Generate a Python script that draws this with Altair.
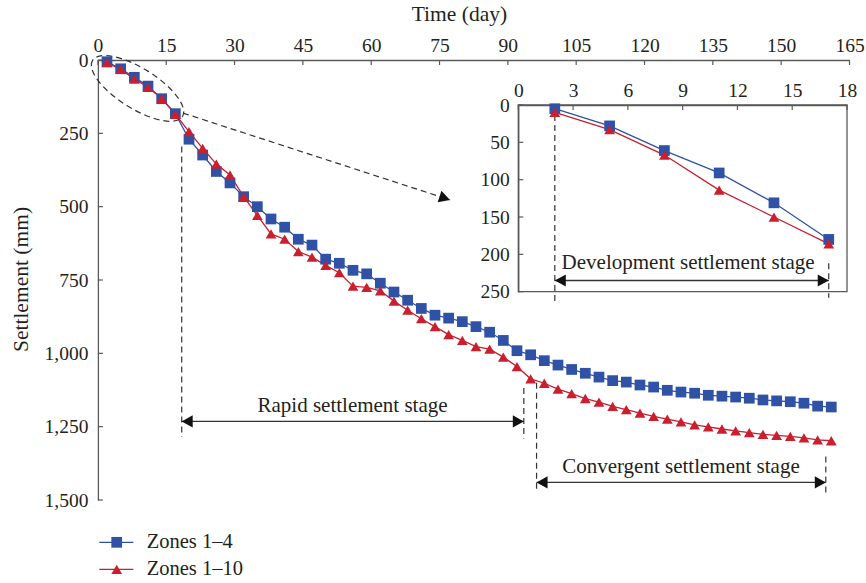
import altair as alt
import pandas as pd

# ---------------- data ----------------
series_names = ["Zones 1–4", "Zones 1–10"]
days = [2, 5, 8, 11, 14, 17, 20, 23, 26, 29, 32, 35, 38, 41, 44, 47, 50, 53,
        56, 59, 62, 65, 68, 71, 74, 77, 80, 83, 86, 89, 92, 95, 98, 101, 104,
        107, 110, 113, 116, 119, 122, 125, 128, 131, 134, 137, 140, 143, 146,
        149, 152, 155, 158, 161]
zones_1_4 = [6, 30, 59, 89, 132, 183, 270, 324, 380, 419, 466, 500, 542, 570,
             611, 631, 679, 693, 717, 729, 761, 791, 819, 847, 870, 880, 892,
             909, 928, 956, 991, 1005, 1025, 1040, 1055, 1068, 1081, 1093, 1098,
             1108, 1115, 1126, 1132, 1136, 1143, 1146, 1149, 1153, 1159, 1162,
             1165, 1170, 1180, 1183]
zones_1_10 = [9, 32, 65, 93, 131, 185, 244, 301, 355, 392, 466, 530, 593, 611,
              653, 672, 700, 725, 771, 775, 787, 822, 853, 882, 909, 936, 956,
              977, 986, 1013, 1045, 1087, 1102, 1122, 1137, 1154, 1166, 1181,
              1192, 1204, 1215, 1224, 1234, 1244, 1251, 1258, 1264, 1270, 1276,
              1280, 1283, 1288, 1295, 1298]

inset_days = [2, 5, 8, 11, 14, 17]
inset_zones_1_4 = [5, 28, 61, 91, 131, 180]
inset_zones_1_10 = [10, 33, 67, 114, 150, 186]

x_ticks = [0, 15, 30, 45, 60, 75, 90, 105, 120, 135, 150, 165]
y_ticks = [0, 250, 500, 750, 1000, 1250, 1500]
inset_x_ticks = [0, 3, 6, 9, 12, 15, 18]
inset_y_ticks = [0, 50, 100, 150, 200, 250]

stage_labels = ["Rapid settlement stage", "Convergent settlement stage",
                "Development settlement stage"]

# ---------------- style ----------------
COLORS = ["#2F52A6", "#C91F2E"]
SHAPES = ["square", "triangle-up"]
FONT = "Liberation Serif"
FS_TICK = 19.5
FS_TITLE = 21.5
FS_TXT = 21
FS_LEG = 20.5
AX = "#5a5a5a"
TXT = "#231f20"
DASH = [6, 4]

W, H = 751.6, 440
PL, PT = 97.9, 60

ARROW_R = "M0,0L-2,-1.1L-2,1.1Z"
ARROW_L = "M0,0L2,-1.1L2,1.1Z"
ELLIPSE = "M-1,0A1,0.38 0 1,0 1,0A1,0.38 0 1,0 -1,0Z"

IX0, IX1 = 420.4, 749.1
IY0, IY1 = 45.0, 231.7


def xsc():
    return alt.Scale(domain=[0, 165], range=[0, W], nice=False, zero=False)


def ysc():
    return alt.Scale(domain=[0, 1500], range=[0, H], nice=False, zero=False)


def ixsc():
    return alt.Scale(domain=[0, 18], range=[IX0, IX1], nice=False, zero=False)


def iysc():
    return alt.Scale(domain=[0, 250], range=[IY0, IY1], nice=False, zero=False)


cs = alt.Scale(domain=series_names, range=COLORS)
ss = alt.Scale(domain=series_names, range=SHAPES)

# ---------------- main panel ----------------
main_df = pd.DataFrame({
    "day": days * 2,
    "mm": zones_1_4 + zones_1_10,
    "series": [series_names[0]] * len(days) + [series_names[1]] * len(days),
})

x_axis = alt.Axis(orient="top", values=x_ticks, ticks=False, grid=False,
                  domainColor=AX, domainWidth=1.3, labelFont=FONT, labelFontSize=FS_TICK,
                  labelColor=TXT, labelPadding=5, labelFlush=False,
                  title="Time (day)", titleFont=FONT, titleFontSize=FS_TITLE,
                  titleFontWeight="normal", titleColor=TXT, titleX=361, titleY=-46,
                  titleAlign="center", titleBaseline="middle", titleAngle=0)
y_axis = alt.Axis(orient="left", values=y_ticks, format=",d", ticks=False,
                  grid=False, domainColor=AX, domainWidth=1.3, labelFont=FONT,
                  labelFontSize=FS_TICK, labelColor=TXT, labelPadding=10, labelFlush=False,
                  title="Settlement (mm)", titleFont=FONT, titleFontSize=FS_TITLE,
                  titleFontWeight="normal", titleColor=TXT, titleX=-76, titleY=219,
                  titleAlign="center", titleBaseline="middle", titleAngle=270)

main_lines = alt.Chart(main_df).mark_line(strokeWidth=1.3).encode(
    x=alt.X("day:Q", scale=xsc(), axis=x_axis),
    y=alt.Y("mm:Q", scale=ysc(), axis=y_axis),
    color=alt.Color("series:N", scale=cs, legend=None),
    detail="series:N",
)
main_pts = alt.Chart(main_df).mark_point(filled=True, opacity=1, size=115).encode(
    x=alt.X("day:Q", scale=xsc(), axis=None),
    y=alt.Y("mm:Q", scale=ysc(), axis=None),
    color=alt.Color("series:N", scale=cs, legend=None),
    shape=alt.Shape("series:N", scale=ss, legend=None),
)

main_xt = alt.Chart(pd.DataFrame({"t": x_ticks})).mark_rule(color=AX, strokeWidth=1.2).encode(
    x=alt.X("t:Q", scale=xsc(), axis=None), y=alt.value(0), y2=alt.value(5))
main_yt = alt.Chart(pd.DataFrame({"t": y_ticks})).mark_rule(color=AX, strokeWidth=1.2).encode(
    y=alt.Y("t:Q", scale=ysc(), axis=None), x=alt.value(0), x2=alt.value(5))

dash_df = pd.DataFrame({
    "x": [18.4, 93.5, 96.3, 159.8, 18.7],
    "y": [295, 1118, 1100, 1352, 181],
    "x2": [18.4, 93.5, 96.3, 159.8, 77.3],
    "y2": [1285, 1290, 1475, 1480, 477],
})
main_dash = alt.Chart(dash_df).mark_rule(color="#333333", strokeWidth=1.2,
                                         strokeDash=DASH).encode(
    x=alt.X("x:Q", scale=xsc(), axis=None), y=alt.Y("y:Q", scale=ysc(), axis=None),
    x2="x2:Q", y2="y2:Q")

shaft_df = pd.DataFrame({"x": [18.4, 96.3], "x2": [93.5, 159.8], "y": [1232, 1440]})
main_shaft = alt.Chart(shaft_df).mark_rule(color="#333333", strokeWidth=1.4).encode(
    x=alt.X("x:Q", scale=xsc(), axis=None), x2="x2:Q",
    y=alt.Y("y:Q", scale=ysc(), axis=None))

head_r = alt.Chart(pd.DataFrame({"x": [93.5, 159.8], "y": [1232, 1440]})).mark_point(
    shape=ARROW_R, size=121, filled=True, color="#111111", opacity=1).encode(
    x=alt.X("x:Q", scale=xsc(), axis=None), y=alt.Y("y:Q", scale=ysc(), axis=None))
head_l = alt.Chart(pd.DataFrame({"x": [18.4, 96.3], "y": [1232, 1440]})).mark_point(
    shape=ARROW_L, size=121, filled=True, color="#111111", opacity=1).encode(
    x=alt.X("x:Q", scale=xsc(), axis=None), y=alt.Y("y:Q", scale=ysc(), axis=None))
head_d = alt.Chart(pd.DataFrame({"x": [77.3], "y": [477]})).mark_point(
    shape=ARROW_R, size=121, filled=True, color="#111111", opacity=1, angle=18).encode(
    x=alt.X("x:Q", scale=xsc(), axis=None), y=alt.Y("y:Q", scale=ysc(), axis=None))

ellipse = alt.Chart(pd.DataFrame({"x": [8.7], "y": [97]})).mark_point(
    shape=ELLIPSE, size=11236, filled=False, color="#333333", strokeWidth=1.2,
    strokeDash=DASH, opacity=1, angle=32).encode(
    x=alt.X("x:Q", scale=xsc(), axis=None), y=alt.Y("y:Q", scale=ysc(), axis=None))

main_txt = alt.Chart(pd.DataFrame({"x": [55.9, 128.0], "y": [1179, 1387],
                                   "label": stage_labels[:2]})).mark_text(
    font=FONT, fontSize=FS_TXT, color=TXT, align="center", baseline="middle").encode(
    x=alt.X("x:Q", scale=xsc(), axis=None), y=alt.Y("y:Q", scale=ysc(), axis=None),
    text="label:N")

# manual legend (below the plot area)
legend_layers = []
for i, name in enumerate(series_names):
    ly = 482.3 + 27 * i
    ldf = pd.DataFrame({"series": [name]})
    legend_layers.append(alt.Chart(ldf).mark_rule(color=COLORS[i], strokeWidth=1.3).encode(
        x=alt.value(1.4), x2=alt.value(35.4), y=alt.value(ly)))
    legend_layers.append(alt.Chart(ldf).mark_point(shape=SHAPES[i], filled=True,
                                                   color=COLORS[i], opacity=1,
                                                   size=115).encode(
        x=alt.value(18.8), y=alt.value(ly)))
    legend_layers.append(alt.Chart(ldf).mark_text(font=FONT, fontSize=FS_LEG, color=TXT,
                                                  align="left", baseline="middle").encode(
        x=alt.value(48.8), y=alt.value(ly), text="series:N"))

# ---------------- inset panel ----------------
inset_df = pd.DataFrame({
    "day": inset_days * 2,
    "mm": inset_zones_1_4 + inset_zones_1_10,
    "series": [series_names[0]] * len(inset_days) + [series_names[1]] * len(inset_days),
})

ix_axis = alt.Axis(orient="top", offset=-IY0, values=inset_x_ticks, ticks=False,
                   grid=False, domainColor=AX, domainWidth=1.3, labelFlush=False,
                   labelFont=FONT, labelFontSize=FS_TICK, labelColor=TXT, labelPadding=5,
                   title="")
iy_axis = alt.Axis(orient="left", offset=-IX0, values=inset_y_ticks, ticks=False,
                   grid=False, domainColor=AX, domainWidth=1.3, labelFlush=False,
                   labelFont=FONT, labelFontSize=FS_TICK, labelColor=TXT, labelPadding=9,
                   title="")

inset_box = alt.Chart(pd.DataFrame({"x": [0], "x2": [18], "y": [0], "y2": [250]})).mark_rect(
    fillOpacity=0, stroke=AX, strokeWidth=1.3).encode(
    x=alt.X("x:Q", scale=ixsc(), axis=ix_axis), x2="x2:Q",
    y=alt.Y("y:Q", scale=iysc(), axis=iy_axis), y2="y2:Q")

inset_lines = alt.Chart(inset_df).mark_line(strokeWidth=1.3).encode(
    x=alt.X("day:Q", scale=ixsc(), axis=None), y=alt.Y("mm:Q", scale=iysc(), axis=None),
    color=alt.Color("series:N", scale=cs, legend=None), detail="series:N")
inset_pts = alt.Chart(inset_df).mark_point(filled=True, opacity=1, size=115).encode(
    x=alt.X("day:Q", scale=ixsc(), axis=None), y=alt.Y("mm:Q", scale=iysc(), axis=None),
    color=alt.Color("series:N", scale=cs, legend=None),
    shape=alt.Shape("series:N", scale=ss, legend=None))

inset_xt = alt.Chart(pd.DataFrame({"t": inset_x_ticks})).mark_rule(color=AX, strokeWidth=1.2).encode(
    x=alt.X("t:Q", scale=ixsc(), axis=None), y=alt.value(IY0), y2=alt.value(IY0 + 5))
inset_yt = alt.Chart(pd.DataFrame({"t": inset_y_ticks})).mark_rule(color=AX, strokeWidth=1.2).encode(
    y=alt.Y("t:Q", scale=iysc(), axis=None), x=alt.value(IX0), x2=alt.value(IX0 + 5))

inset_dash = alt.Chart(pd.DataFrame({"x": [2, 17], "y": [0, 212], "x2": [2, 17],
                                     "y2": [263, 258]})).mark_rule(
    color="#333333", strokeWidth=1.2, strokeDash=DASH).encode(
    x=alt.X("x:Q", scale=ixsc(), axis=None), y=alt.Y("y:Q", scale=iysc(), axis=None),
    x2="x2:Q", y2="y2:Q")
inset_shaft = alt.Chart(pd.DataFrame({"x": [2], "x2": [17], "y": [235]})).mark_rule(
    color="#333333", strokeWidth=1.4).encode(
    x=alt.X("x:Q", scale=ixsc(), axis=None), x2="x2:Q", y=alt.Y("y:Q", scale=iysc(), axis=None))
ihr = alt.Chart(pd.DataFrame({"x": [17], "y": [235]})).mark_point(
    shape=ARROW_R, size=121, filled=True, color="#111111", opacity=1).encode(
    x=alt.X("x:Q", scale=ixsc(), axis=None), y=alt.Y("y:Q", scale=iysc(), axis=None))
ihl = alt.Chart(pd.DataFrame({"x": [2], "y": [235]})).mark_point(
    shape=ARROW_L, size=121, filled=True, color="#111111", opacity=1).encode(
    x=alt.X("x:Q", scale=ixsc(), axis=None), y=alt.Y("y:Q", scale=iysc(), axis=None))
itxt = alt.Chart(pd.DataFrame({"x": [9.3], "y": [211.6], "label": [stage_labels[2]]})).mark_text(
    font=FONT, fontSize=FS_TXT, color=TXT, align="center", baseline="middle").encode(
    x=alt.X("x:Q", scale=ixsc(), axis=None), y=alt.Y("y:Q", scale=iysc(), axis=None),
    text="label:N")

chart = alt.layer(
    main_lines, main_dash, ellipse, head_d, main_shaft, head_r, head_l, main_txt,
    main_pts, main_xt, main_yt,
    inset_box, inset_dash, inset_shaft, ihr, ihl, itxt, inset_lines, inset_pts,
    inset_xt, inset_yt, *legend_layers
).resolve_scale(
    x="independent", y="independent"
).properties(
    width=W, height=H,
    autosize=alt.AutoSizeParams(type="none"),
    padding={"left": PL, "top": PT, "right": 866 - PL - W, "bottom": 583 - PT - H},
    background="white",
).configure_view(stroke=None)

chart.save("out.html", embed_options={"renderer": "svg", "actions": False})
